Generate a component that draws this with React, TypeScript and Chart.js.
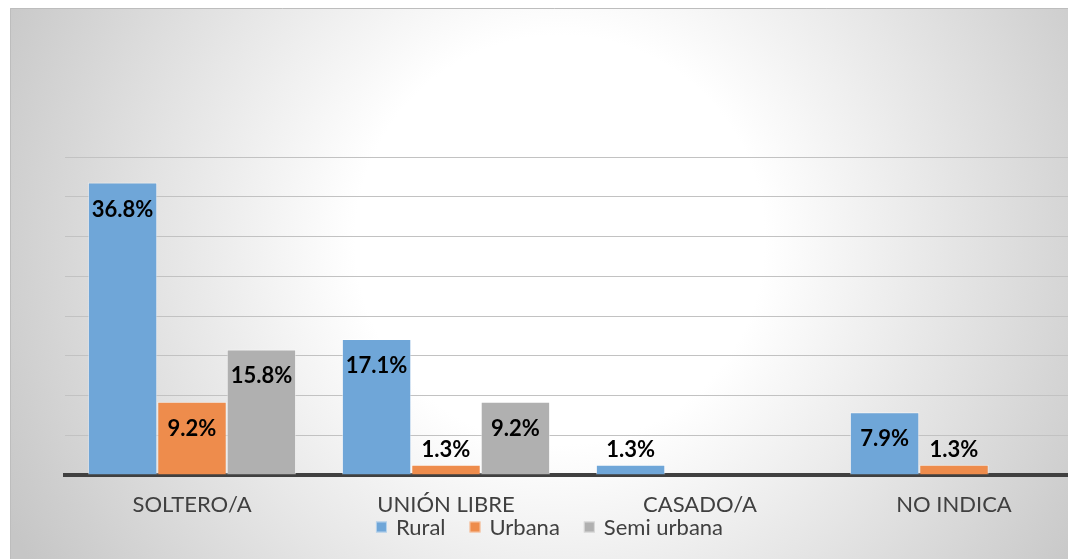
import React, { useEffect, useRef } from "react";
import { Chart, registerables } from "chart.js";

Chart.register(...registerables);

const categories = ["SOLTERO/A", "UNIÓN LIBRE", "CASADO/A", "NO INDICA"];
const seriesNames = ["Rural", "Urbana", "Semi urbana"];
const rural = [36.8, 17.1, 1.3, 7.9];
const urbana = [9.2, 1.3, 0, 1.3];
const semiUrbana = [15.8, 9.2, 0, 0];
const seriesColors = ["#6fa6d8", "#ee8c4c", "#b0b0b0"];
const yMin = 0;
const yMax = 40;
const yStep = 5;

const FONT = "Lato, 'Open Sans', sans-serif";

const bgPlugin = {
  id: "bgPlugin",
  beforeDraw(chart: any) {
    const { ctx, width, height } = chart;
    ctx.save();
    const g = ctx.createRadialGradient(560, 240, 0, 560, 240, 620);
    g.addColorStop(0, "#ffffff");
    g.addColorStop(0.33, "#ffffff");
    g.addColorStop(1, "#c6c6c6");
    ctx.fillStyle = g;
    ctx.fillRect(10, 8, width - 10, height - 8);
    ctx.strokeStyle = "#bdbdbd";
    ctx.lineWidth = 1;
    ctx.beginPath();
    ctx.moveTo(10.5, height);
    ctx.lineTo(10.5, 8.5);
    ctx.lineTo(width, 8.5);
    ctx.stroke();
    ctx.restore();
  },
};

const labelPlugin = {
  id: "labelPlugin",
  afterDatasetsDraw(chart: any) {
    const { ctx } = chart;
    ctx.save();
    ctx.font = `bold 22px ${FONT}`;
    ctx.fillStyle = "#000000";
    ctx.textAlign = "center";
    ctx.textBaseline = "middle";
    chart.data.datasets.forEach((ds: any, i: number) => {
      const meta = chart.getDatasetMeta(i);
      meta.data.forEach((bar: any, j: number) => {
        const v = ds.data[j];
        if (!v) return;
        const { x, y, base } = bar.getProps(["x", "y", "base"], true);
        const h = base - y;
        const ty = h > 40 ? y + 27 : y - 15;
        ctx.fillText(v.toFixed(1) + "%", x, ty);
      });
    });
    ctx.restore();
  },
};

// legend drawn below the x-axis labels, centred like the reference
const legendPlugin = {
  id: "legendPlugin",
  afterDraw(chart: any) {
    const { ctx } = chart;
    const box = 11;
    const boxGap = 9;
    const itemGap = 24;
    const centerX = 549.5;
    const centerY = 527;
    ctx.save();
    ctx.font = `22px ${FONT}`;
    ctx.textBaseline = "middle";
    ctx.textAlign = "left";
    const items = chart.data.datasets.map((ds: any) => ({
      text: ds.label,
      color: ds.backgroundColor,
      w: ctx.measureText(ds.label).width,
    }));
    const total =
      items.reduce((s: number, it: any) => s + box + boxGap + it.w, 0) +
      itemGap * (items.length - 1);
    let x = centerX - total / 2;
    items.forEach((it: any) => {
      ctx.fillStyle = it.color;
      ctx.fillRect(x, centerY - box / 2, box, box);
      ctx.strokeStyle = "rgba(255,255,255,0.5)";
      ctx.lineWidth = 1;
      ctx.strokeRect(x + 0.5, centerY - box / 2 + 0.5, box - 1, box - 1);
      ctx.fillStyle = "#404040";
      ctx.fillText(it.text, x + box + boxGap, centerY + 1);
      x += box + boxGap + it.w + itemGap;
    });
    ctx.restore();
  },
};

export default function App() {
  const ref = useRef<HTMLCanvasElement | null>(null);

  useEffect(() => {
    if (!ref.current) return;
    const values = [rural, urbana, semiUrbana];
    const chart = new Chart(ref.current, {
      type: "bar",
      data: {
        labels: categories,
        datasets: seriesNames.map((name, i) => ({
          label: name,
          data: values[i],
          backgroundColor: seriesColors[i],
          borderColor: "rgba(255,255,255,0.5)",
          borderWidth: (c: any) => (c.raw ? 1 : 0),
          categoryPercentage: 0.82,
          barPercentage: 1,
          yAxisID: "y",
        })),
      },
      options: {
        responsive: false,
        animation: false,
        layout: { padding: { left: 0, right: 18, top: 157, bottom: 23.6 } },
        plugins: {
          tooltip: { enabled: false },
          legend: { display: false },
        },
        scales: {
          x: {
            grid: { display: false, drawTicks: false },
            border: { display: true, color: "#404040", width: 4 },
            ticks: { color: "#404040", font: { family: FONT, size: 22 }, padding: 17, maxRotation: 0 },
          },
          y: {
            min: yMin,
            max: yMax,
            ticks: { display: false, stepSize: yStep },
            grid: { color: "#c2c2c2", lineWidth: 1, drawTicks: false },
            border: { display: false },
            afterFit: (s: any) => {
              s.width = 65;
            },
          },
        },
      } as any,
      plugins: [bgPlugin, labelPlugin, legendPlugin],
    });
    return () => chart.destroy();
  }, []);

  return (
    <div
      style={{
        position: "fixed",
        left: 0,
        top: 0,
        width: 1068,
        height: 559,
        overflow: "hidden",
        background: "#ffffff",
      }}
    >
      <canvas ref={ref} width={1099} height={559} style={{ display: "block" }} />
    </div>
  );
}
